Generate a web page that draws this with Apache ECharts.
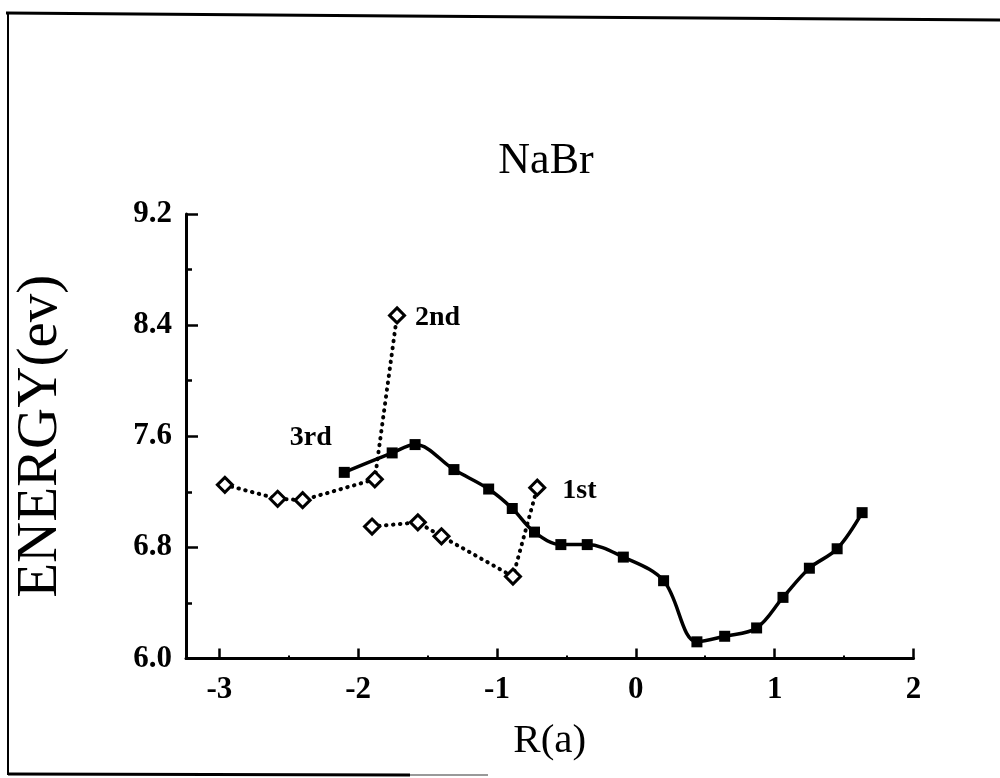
<!DOCTYPE html>
<html>
<head>
<meta charset="utf-8">
<script src="https://cdn.jsdelivr.net/npm/echarts@6/dist/echarts.min.js"></script>
<style>
  html, body { margin: 0; padding: 0; background: #fff; }
  #chart { width: 1000px; height: 778px; }
</style>
</head>
<body>
<div id="chart"></div>
<script>
// NaBr energy curves versus R(a)
const rThird = [-2.10, -1.755, -1.59, -1.31, -1.06, -0.89, -0.73, -0.54, -0.35, -0.09, 0.20, 0.44, 0.64, 0.87, 1.06, 1.25, 1.45, 1.63];
const eThird = [7.34, 7.48, 7.54, 7.36, 7.22, 7.08, 6.91, 6.82, 6.82, 6.73, 6.56, 6.12, 6.16, 6.22, 6.44, 6.65, 6.79, 7.05];
const rSecond = [-2.96, -2.58, -2.40, -1.88, -1.72];
const eSecond = [7.25, 7.15, 7.14, 7.29, 8.47];
const rFirst = [-1.90, -1.57, -1.40, -0.885, -0.71];
const eFirst = [6.95, 6.98, 6.88, 6.59, 7.23];

const xTicks = [-3, -2, -1, 0, 1, 2];
const xMinorTicks = [-2.5, -1.5, -0.5, 0.5, 1.5];
const yTicks = [6.0, 6.8, 7.6, 8.4, 9.2];
const yMinorTicks = [6.4, 7.2, 8.0, 8.8];

const seriesNames = ['3rd', '2nd', '1st'];

const serif = '"Liberation Serif", "DejaVu Serif", serif';

function pairs(xs, ys) {
  return xs.map((x, i) => [x, ys[i]]);
}

// tag one point of a series with its name
function withLabel(data, index, label) {
  return data.map((p, i) => i === index ? { value: p, label: label } : p);
}

const chart = echarts.init(document.getElementById('chart'), null, { renderer: 'canvas' });

const xRange = { min: -3.24, max: 2 };
const yRange = { min: 6.0, max: 9.2 };

const dotted = { color: '#000', width: 4, type: [0.5, 6.5], cap: 'round' };
const seriesLabelFont = { fontFamily: serif, fontSize: 28, fontWeight: 'bold', color: '#000' };

const option = {
  backgroundColor: '#ffffff',
  animation: false,
  title: {
    text: 'NaBr',
    left: 541,
    top: 134,
    textAlign: 'center',
    textStyle: { fontFamily: serif, fontSize: 44, fontWeight: 'normal', color: '#000' }
  },
  grid: { left: 186, right: 86.5, top: 214, bottom: 119.5 },
  xAxis: [
    {
      type: 'value', min: xRange.min, max: xRange.max,
      name: 'R(a)', nameLocation: 'middle', nameGap: 62,
      nameTextStyle: { fontFamily: serif, fontSize: 41, color: '#000' },
      splitLine: { show: false },
      axisLine: { onZero: false, lineStyle: { color: '#000', width: 3 } },
      axisTick: { inside: true, length: 10, customValues: xTicks, lineStyle: { color: '#000', width: 2.5 } },
      axisLabel: {
        customValues: xTicks, margin: 16,
        fontFamily: serif, fontSize: 31, fontWeight: 'bold', color: '#000',
        formatter: v => String(v)
      }
    },
    {
      type: 'value', min: xRange.min, max: xRange.max, position: 'bottom',
      splitLine: { show: false },
      axisLine: { show: false, onZero: false },
      axisTick: { inside: true, length: 3, customValues: xMinorTicks, lineStyle: { color: '#000', width: 2 } },
      axisLabel: { show: false }
    }
  ],
  yAxis: [
    {
      type: 'value', min: yRange.min, max: yRange.max,
      name: 'ENERGY(ev)', nameLocation: 'middle', nameGap: 116, nameRotate: 90,
      nameTextStyle: { fontFamily: serif, fontSize: 57, color: '#000' },
      splitLine: { show: false },
      axisLine: { onZero: false, lineStyle: { color: '#000', width: 3 } },
      axisTick: { inside: true, length: 12, customValues: yTicks, lineStyle: { color: '#000', width: 2.5 } },
      axisLabel: {
        customValues: yTicks, margin: 14,
        fontFamily: serif, fontSize: 31, fontWeight: 'bold', color: '#000',
        formatter: v => v.toFixed(1)
      }
    },
    {
      type: 'value', min: yRange.min, max: yRange.max, position: 'left',
      splitLine: { show: false },
      axisLine: { show: false, onZero: false },
      axisTick: { inside: true, length: 6, customValues: yMinorTicks, lineStyle: { color: '#000', width: 2.5 } },
      axisLabel: { show: false }
    }
  ],
  series: [
    {
      name: seriesNames[0],
      type: 'line',
      smooth: 0.35,
      data: withLabel(pairs(rThird, eThird), 0, Object.assign({
        show: true, formatter: seriesNames[0], position: 'left',
        offset: [-2, -35]
      }, seriesLabelFont)),
      symbol: 'rect',
      symbolSize: 11,
      itemStyle: { color: '#000' },
      lineStyle: { color: '#000', width: 3.5 },
      z: 3
    },
    {
      name: seriesNames[1],
      type: 'line',
      data: withLabel(pairs(rSecond, eSecond), rSecond.length - 1, Object.assign({
        show: true, formatter: seriesNames[1], position: 'right',
        distance: 9, offset: [0, 2]
      }, seriesLabelFont)),
      symbol: 'diamond',
      symbolSize: [15, 15],
      itemStyle: { color: '#fff', borderColor: '#000', borderWidth: 3 },
      lineStyle: dotted,
      z: 4
    },
    {
      name: seriesNames[2],
      type: 'line',
      data: withLabel(pairs(rFirst, eFirst), rFirst.length - 1, Object.assign({
        show: true, formatter: seriesNames[2], position: 'right',
        distance: 16, offset: [0, 3]
      }, seriesLabelFont)),
      symbol: 'diamond',
      symbolSize: [15, 15],
      itemStyle: { color: '#fff', borderColor: '#000', borderWidth: 3 },
      lineStyle: dotted,
      z: 4
    }
  ],
  graphic: [
    // page frame
    {
      type: 'polyline', silent: true,
      shape: { points: [[6, 13], [400, 16], [1000, 20]] },
      style: { stroke: '#000', lineWidth: 3, fill: null }
    },
    {
      type: 'line', silent: true,
      shape: { x1: 8, y1: 12, x2: 8, y2: 775 },
      style: { stroke: '#000', lineWidth: 2 }
    },
    {
      type: 'line', silent: true,
      shape: { x1: 8, y1: 774, x2: 410, y2: 775 },
      style: { stroke: '#000', lineWidth: 3 }
    },
    {
      type: 'line', silent: true,
      shape: { x1: 410, y1: 775, x2: 488, y2: 775 },
      style: { stroke: '#999', lineWidth: 2 }
    }
  ]
};

chart.setOption(option);
</script>
</body>
</html>
